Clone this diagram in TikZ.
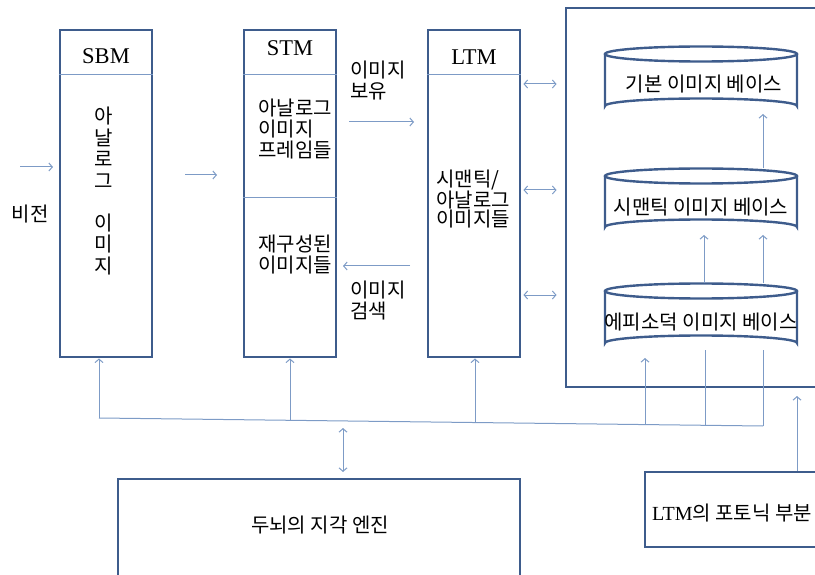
\documentclass[tikz,border=0pt]{standalone}
\usepackage{fontspec}
\setmainfont{Liberation Serif}
\newfontfamily\kr{Noto Sans CJK KR}
\usetikzlibrary{arrows.meta}
\definecolor{boxblue}{RGB}{62,92,140}
\definecolor{arrblue}{RGB}{125,155,198}
\tikzset{
  box/.style={draw=boxblue, line width=2.9pt, minimum width=#1, inner sep=0pt},
  thinline/.style={draw=arrblue, line width=1pt},
  arr/.style={arrblue, line width=1pt, -{Straight Barb[length=3.5pt,width=8pt]}},
  darr/.style={arrblue, line width=1pt, {Straight Barb[length=3.5pt,width=8pt]}-{Straight Barb[length=3.5pt,width=8pt]}},
  hdr/.style={font=\fontsize{22.5}{24}\selectfont, inner sep=0pt},
  krt/.style={font=\kr\fontsize{20}{21}\selectfont, inner sep=0pt, align=left},
  cyl/.style={draw=boxblue, line width=2.4pt},
}
\begin{document}
\begin{tikzpicture}[x=1pt,y=-1pt]
\useasboundingbox (0,0) rectangle (815,575);
\clip (0,0) rectangle (815,575);
% main boxes
\node[box=92pt, minimum height=327pt] (sbm) at (106,193.5) {};
\node[box=92pt, minimum height=327pt] (stm) at (290,193.5) {};
\node[box=92pt, minimum height=327pt] (ltm) at (474,193.5) {};
\node[box=270pt, minimum height=379pt] (big) at (701,197.5) {};
\node[box=402pt, minimum height=130pt] (brain) at (319,544) {};
\node[box=190pt, minimum height=75pt] (phot) at (740,509.5) {};
% header dividers
\draw[thinline] (sbm.west |- 0,75) -- (sbm.east |- 0,75);
\draw[thinline] (stm.west |- 0,75) -- (stm.east |- 0,75);
\draw[thinline] (ltm.west |- 0,75) -- (ltm.east |- 0,75);
\draw[thinline] (stm.west |- 0,198) -- (stm.east |- 0,198);
% headers
\node[hdr] (tsbm) at (106,56) {SBM};
\node[hdr] (tstm) at (290,48) {STM};
\node[hdr] (tltm) at (474,57) {LTM};
% SBM vertical text
\node[krt, align=center, font=\kr\fontsize{20}{21.7}\selectfont] (tsbmv) at (104,191) {아\\날\\로\\그\\[20pt]이\\미\\지};
% STM texts
\node[krt, anchor=west] (tstm1) at (258,129) {아날로그\\이미지\\프레임들};
\node[krt, anchor=west] (tstm2) at (258,255) {재구성된\\이미지들};
% LTM text
\node[krt, anchor=west, font=\kr\fontsize{20}{18.5}\selectfont] (tltm1) at (436,199) {시맨틱/\\아날로그\\이미지들};
% side labels
\node[krt] (tvis) at (30,214) {비전};
\node[krt, anchor=west] (thold) at (350,81) {이미지\\보유};
\node[krt, anchor=west] (tret) at (350,301) {이미지\\검색};
% cylinders
\foreach \n/\yt/\yb in {c1/54/106, c2/176/227, c3/291/343}{
  \coordinate (\n t) at (701,\yt);
  \coordinate (\n b) at (701,\yb);
  \draw[cyl] (\n t) ellipse [x radius=96pt, y radius=7.5pt];
  \draw[cyl] ([xshift=-96pt]\n t) -- ([xshift=-96pt]\n b)
     arc[start angle=180, end angle=360, x radius=96pt, y radius=-7.5pt]
     -- ([xshift=96pt]\n t);
}
\node[krt] (tc1) at (704,84) {기본 이미지 베이스};
\node[krt] (tc2) at (701,207) {시맨틱 이미지 베이스};
\node[krt] (tc3) at (701,322) {에피소덕 이미지 베이스};
% cylinder arrows
\draw[arr] (763,283.5) -- (763,235);
\draw[arr] (763,168.5) -- (763,114);
\draw[arr] (704,283.5) -- (704,235);
% bottom texts
\node[krt] (tbrain) at (320,525) {두뇌의 지각 엔진};
\node[krt, font=\fontsize{20}{22}\selectfont] (tphot) at (732,513) {LTM{\kr 의 포토닉 부분}};
% horizontal arrows
\coordinate (v1) at (20,167); \coordinate (v2) at (53,167);
\draw[arr] (v1) -- (v2);
\coordinate (s1) at (185,175); \coordinate (s2) at (217,175);
\draw[arr] (s1) -- (s2);
\coordinate (h1) at (349,122); \coordinate (h2) at (414,122);
\draw[arr] (h1) -- (h2);
\coordinate (r1) at (410,266); \coordinate (r2) at (343,266);
\draw[arr] (r1) -- (r2);
\foreach \y in {84,190,295}{
  \draw[darr] ([xshift=2pt]ltm.east |- 0,\y) -- ([xshift=-8pt]big.west |- 0,\y);
}
% bus
\coordinate (b0) at (99,418);
\coordinate (b1) at (290,419.8);
\coordinate (b2) at (475,422);
\coordinate (b3) at (645,424.6);
\coordinate (b4) at (705,425.4);
\coordinate (b5) at (763,426);
\draw[thinline] (b0) -- (b5);
\draw[arr] (b0) -- (b0 |- sbm.south);
\draw[arr] (b1) -- (b1 |- stm.south);
\draw[arr] (b2) -- (b2 |- ltm.south);
\draw[arr] (b3) -- (645,358);
\draw[thinline] (b4) -- (705,350);
\draw[thinline] (b5) -- (763,350);
\draw[darr] (343,428) -- (343,472);
\draw[arr] (phot.north -| 797,0) -- (797,396);
\end{tikzpicture}
\end{document}
